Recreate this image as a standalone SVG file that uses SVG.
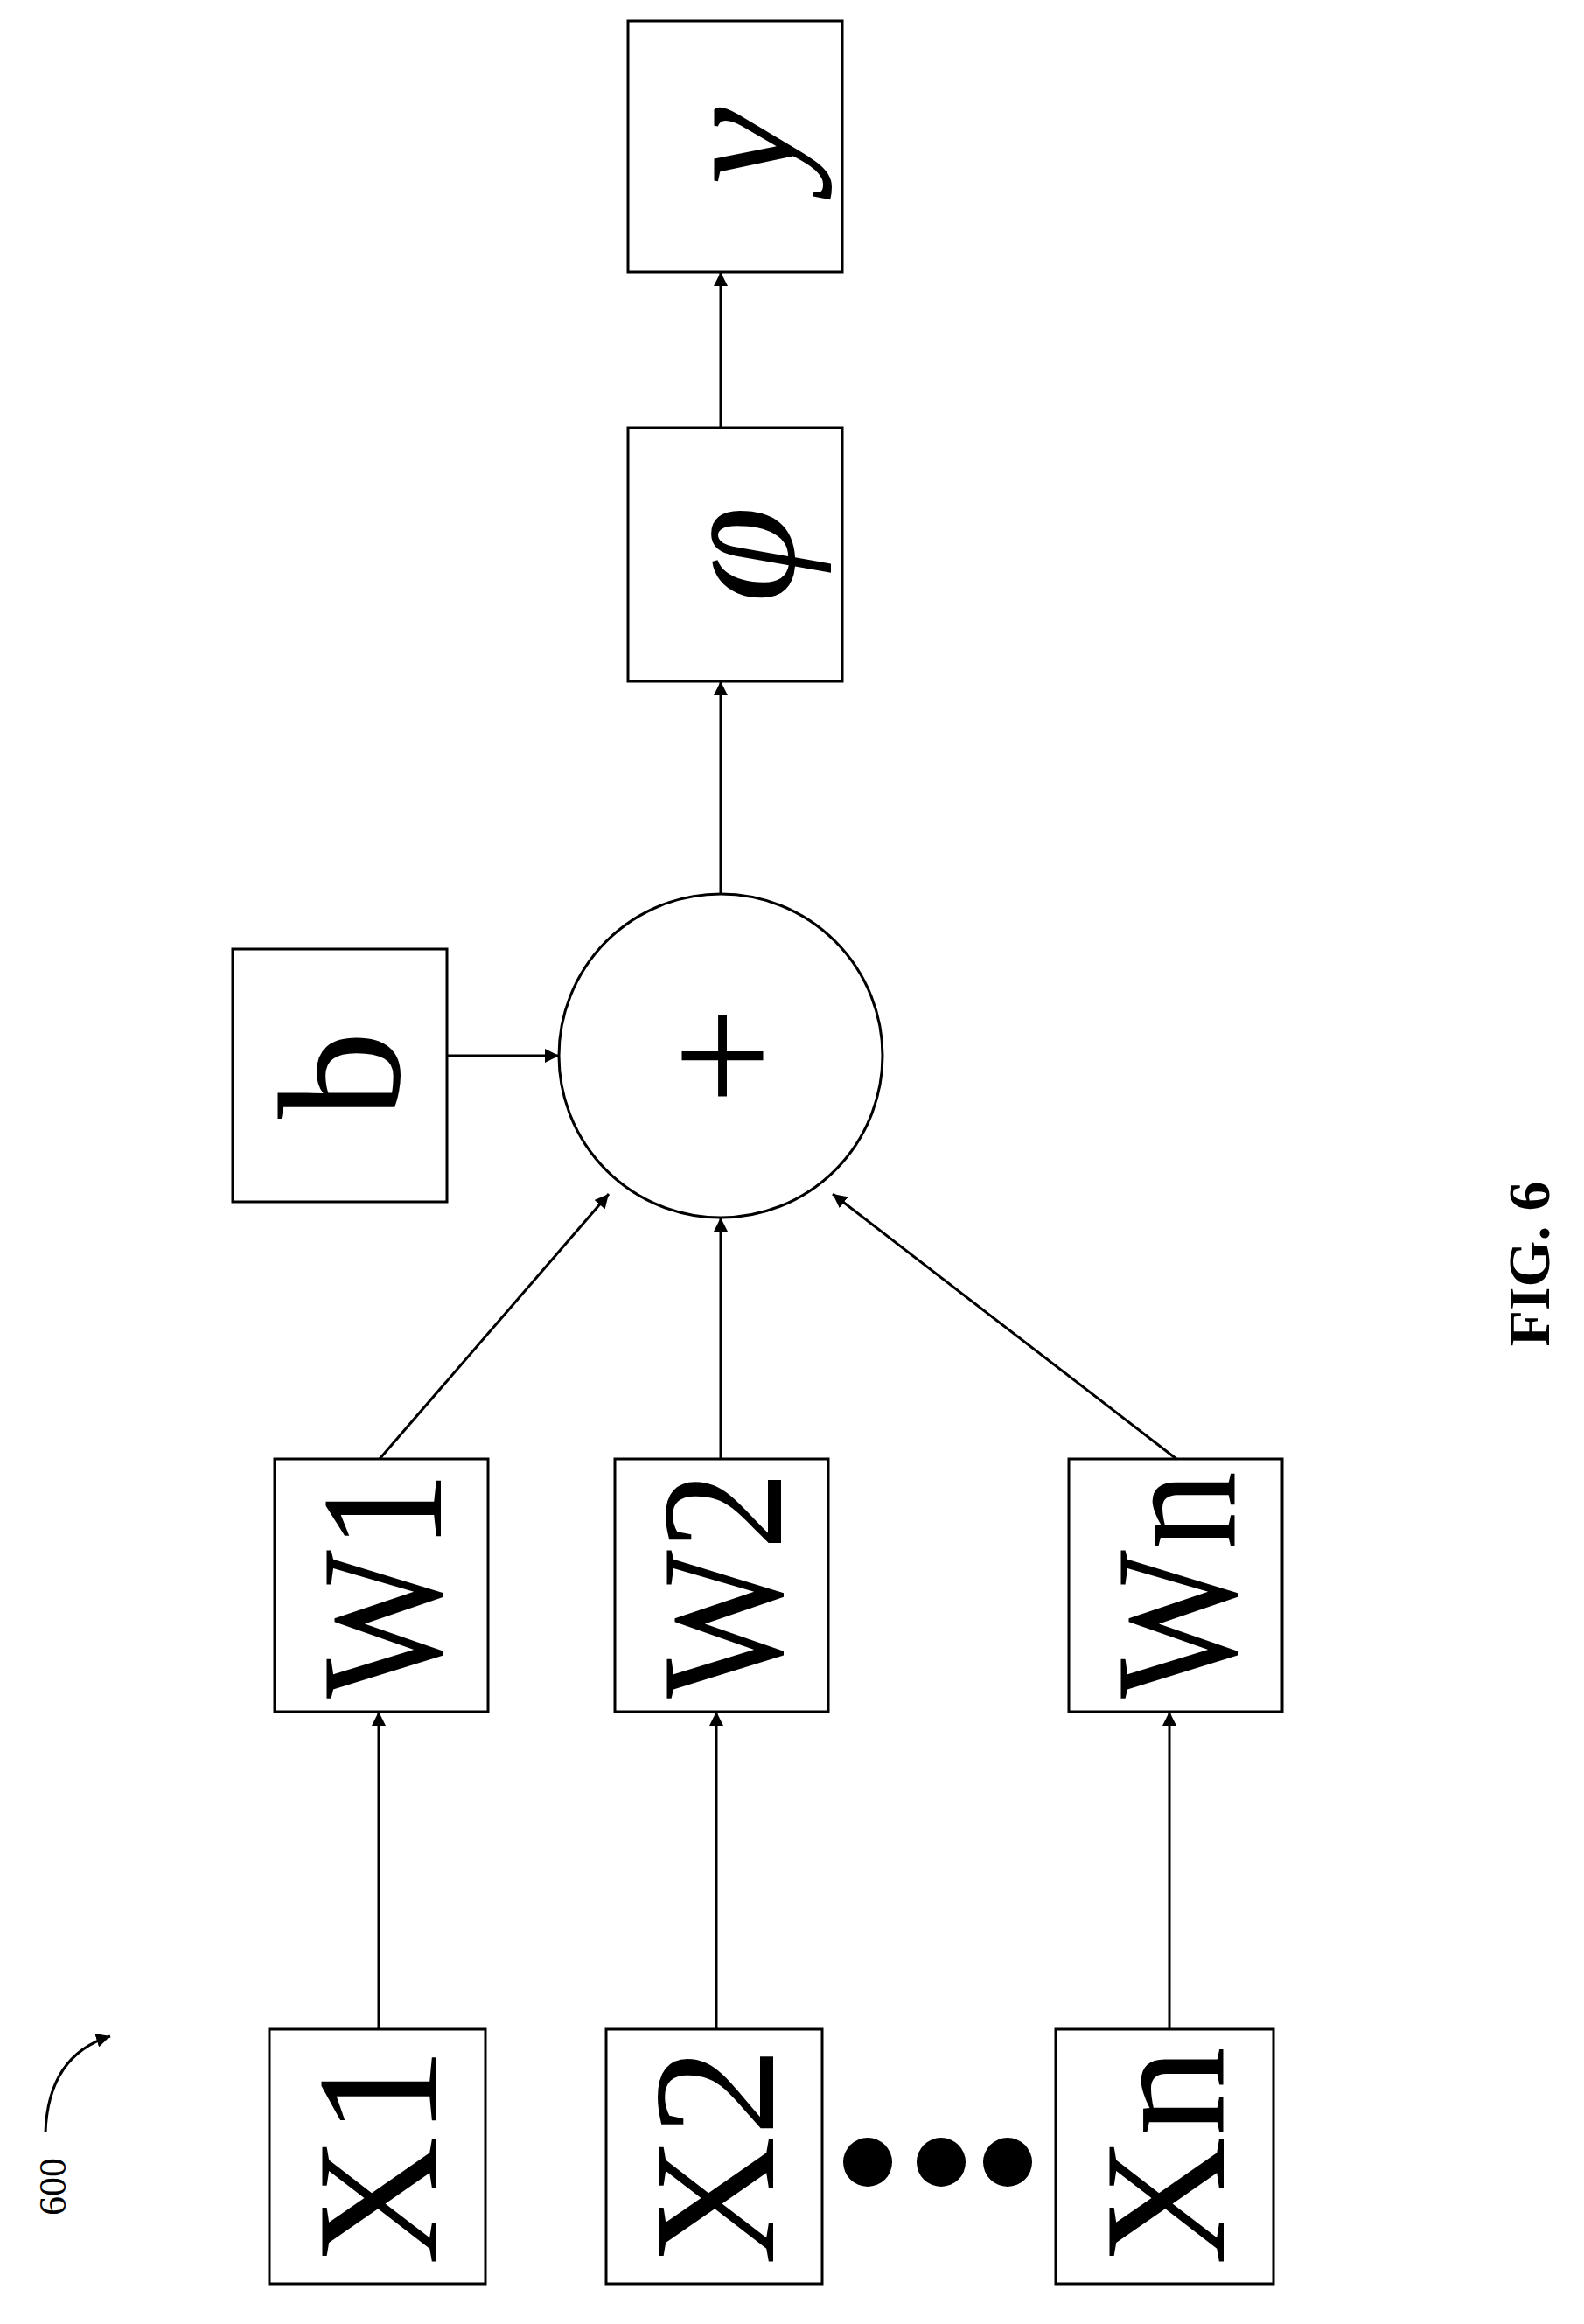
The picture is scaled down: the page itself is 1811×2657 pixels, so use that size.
<svg xmlns="http://www.w3.org/2000/svg" width="1811" height="2657" viewBox="0 0 1811 2657">
<style>
.b{fill:#fff;stroke:#000;stroke-width:3}
.t{font-family:"Liberation Serif",serif;font-size:200px;text-anchor:middle;dominant-baseline:central;fill:#000}
.c{stroke:#000;stroke-width:3;fill:none}
</style>
<defs><marker id="m" viewBox="0 0 10 10" refX="10" refY="5" markerWidth="16" markerHeight="16" orient="auto" markerUnits="userSpaceOnUse"><path d="M0,0L10,5L0,10z"/></marker></defs>
<rect width="1811" height="2657" fill="#fff"/>
<g id="y"><rect class="b" x="718" y="24" width="245" height="287"/><text class="t" transform="translate(840,167) rotate(-90)" font-style="italic" font-size="170">y</text></g>
<g id="phi"><rect class="b" x="718" y="489" width="245" height="290"/><text class="t" transform="translate(840,634) rotate(-90)" font-style="italic" font-size="130">φ</text></g>
<g id="sum"><circle class="b" cx="824" cy="1207" r="185"/><text class="t" transform="translate(824,1207) rotate(-90)" font-size="140">+</text></g>
<g id="b"><rect class="b" x="266" y="1085" width="245" height="289"/><text class="t" transform="translate(388,1229) rotate(-90)" font-size="210">b</text></g>
<g id="W1"><rect class="b" x="314" y="1668" width="244" height="289"/><text class="t" transform="translate(436,1812) rotate(-90)" textLength="260" lengthAdjust="spacingAndGlyphs">W1</text></g>
<g id="W2"><rect class="b" x="703" y="1668" width="244" height="289"/><text class="t" transform="translate(825,1812) rotate(-90)" textLength="260" lengthAdjust="spacingAndGlyphs">W2</text></g>
<g id="Wn"><rect class="b" x="1222" y="1668" width="244" height="289"/><text class="t" transform="translate(1344,1812) rotate(-90)" textLength="260" lengthAdjust="spacingAndGlyphs">Wn</text></g>
<g id="X1"><rect class="b" x="308" y="2320" width="247" height="291"/><text class="t" transform="translate(431,2465) rotate(-90)" textLength="250" lengthAdjust="spacingAndGlyphs">X1</text></g>
<g id="X2"><rect class="b" x="693" y="2320" width="247" height="291"/><text class="t" transform="translate(816,2465) rotate(-90)" textLength="250" lengthAdjust="spacingAndGlyphs">X2</text></g>
<g id="Xn"><rect class="b" x="1207" y="2320" width="249" height="291"/><text class="t" transform="translate(1331,2465) rotate(-90)" textLength="250" lengthAdjust="spacingAndGlyphs">Xn</text></g>
<g id="dots"><circle cx="992" cy="2472" r="28"/><circle cx="1076" cy="2472" r="28"/><circle cx="1152" cy="2472" r="28"/></g>
<g id="connectors" class="c">
<line x1="433" y1="2320" x2="433" y2="1957" marker-end="url(#m)"/>
<line x1="819" y1="2320" x2="819" y2="1957" marker-end="url(#m)"/>
<line x1="1337" y1="2320" x2="1337" y2="1957" marker-end="url(#m)"/>
<line x1="434" y1="1668" x2="696" y2="1365" marker-end="url(#m)"/>
<line x1="824" y1="1668" x2="824" y2="1392" marker-end="url(#m)"/>
<line x1="1345" y1="1668" x2="952" y2="1365" marker-end="url(#m)"/>
<line x1="511" y1="1207" x2="639" y2="1207" marker-end="url(#m)"/>
<line x1="824" y1="1022" x2="824" y2="779" marker-end="url(#m)"/>
<line x1="824" y1="489" x2="824" y2="311" marker-end="url(#m)"/>
<path d="M52,2438 Q55,2350 126,2328" marker-end="url(#m)"/>
</g>
<text transform="translate(60,2500) rotate(-90)" font-family="Liberation Serif,serif" font-size="44" text-anchor="middle" dominant-baseline="central">600</text>
<text transform="translate(1748,1445) rotate(-90)" font-family="Liberation Serif,serif" font-size="68" font-weight="bold" text-anchor="middle" dominant-baseline="central">FIG. 6</text>
</svg>
